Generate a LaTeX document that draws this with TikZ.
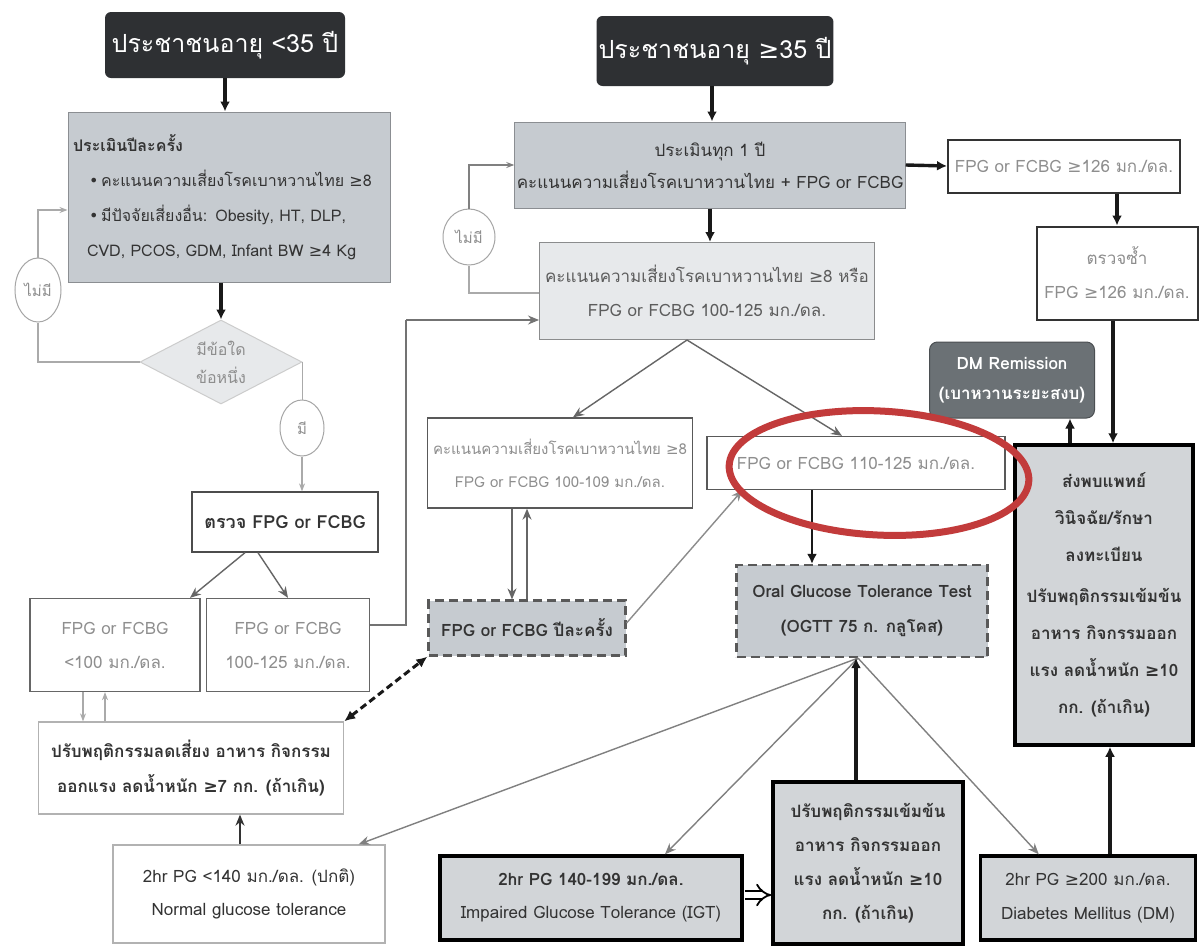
\documentclass[tikz,border=0pt]{standalone}
\usepackage{fontspec}
\setmainfont{Loma}[Script=Thai]
\newfontfamily\djv{DejaVu Sans}
\usetikzlibrary{arrows.meta,shapes.geometric,calc}
\newcommand\mygeq{{\djv ≥}}
\newcommand\mybul{{\djv •}}
\newcommand\fs[2]{\fontsize{#1}{#2}\selectfont}
\definecolor{titlebg}{HTML}{2E3033}
\definecolor{boxgray}{HTML}{C6CBD0}
\definecolor{boxlight}{HTML}{E7E9EB}
\definecolor{boxmid}{HTML}{D2D5D8}
\definecolor{txtgray}{HTML}{8E8E8E}
\definecolor{txtdark}{HTML}{333333}
\definecolor{remgray}{HTML}{6B7175}
\definecolor{ovalred}{HTML}{C23B3B}
\definecolor{linegray}{HTML}{666666}
\definecolor{lightline}{HTML}{AAAAAA}
\tikzset{
  sz/.style 2 args={minimum width=#1,minimum height=#2,inner sep=2pt,align=center},
  titlebox/.style={fill=titlebg,rounded corners=6pt,text=white,font=\fs{25}{30}},
  graybox/.style={fill=boxgray,draw=boxgray!70!black,line width=1pt},
  lightbox/.style={fill=boxlight,draw=boxlight!60!black,line width=1pt},
  whitebox/.style={fill=white,draw=black!70,line width=1.3pt},
  palebox/.style={fill=white,draw=black!30,line width=1.3pt},
  thickbox/.style={fill=boxmid,draw=black,line width=3.5pt},
  dashbox/.style={fill=boxgray,draw=black!65,line width=2.2pt,dash pattern=on 9pt off 5pt},
  remb/.style={fill=remgray,draw=remgray!70!black,rounded corners=8pt,text=white,font=\bfseries\fs{17}{30},line width=1pt},
  oval/.style={ellipse,draw=black!35,line width=1pt,fill=white,text=txtgray,inner sep=0pt},
  bigarrow/.style={draw=black!90,line width=3.4pt,-{Latex[length=10pt,width=10pt]}},
  thinarrow/.style={draw=linegray,line width=1.4pt,-{Stealth[length=11pt,width=9pt]}},
  lightarrow/.style={draw=lightline,line width=1.1pt,-{Stealth[length=8pt,width=6pt]}},
  lightline/.style={draw=lightline,line width=1.1pt},
}
\begin{document}
\begin{tikzpicture}[x=1pt,y=-1pt]
\fill[white] (0,0) rectangle (1200,948);
\useasboundingbox (0,0) rectangle (1200,948);

% ---------- titles ----------
\node[titlebox,sz={240}{66}] (tl) at (225,45) {ประชาชนอายุ <35 ปี};
\node[titlebox,sz={236}{70}] (tm) at (715,51) {ประชาชนอายุ \mygeq35 ปี};

% ---------- left column ----------
\node[graybox,sz={322}{170},text width=312,align=left,text=txtdark,font=\fs{16}{35}] (b1) at (229,197)
 {\textbf{ประเมินปีละครั้ง}\\
  \hspace*{16pt}\mybul\,คะแนนความเสี่ยงโรคเบาหวานไทย \mygeq8\\
  \hspace*{16pt}\mybul\,มีปัจจัยเสี่ยงอื่น: Obesity, HT, DLP,\\
  \hspace*{14pt}CVD, PCOS, GDM, Infant BW \mygeq4 Kg};

\node[diamond,aspect=1.95,fill=boxlight,draw=black!20,line width=1pt,minimum width=162,minimum height=84,inner sep=0pt,align=center,text=txtgray,font=\fs{16}{28}] (d1) at (221,362) {มีข้อใด\\ข้อหนึ่ง};

\node[oval,minimum width=46,minimum height=64,font=\fs{15}{18}] (c1) at (38,290) {ไม่มี};
\node[oval,minimum width=44,minimum height=56,font=\fs{15}{18}] (c2) at (302,428) {มี};

\node[whitebox,sz={186}{60},text=txtdark,font=\bfseries\fs{18}{24}] (ck) at (285,522) {ตรวจ FPG or FCBG};

\node[palebox,draw=black!60,sz={170}{93},text=txtgray,font=\fs{17}{34}] (f1) at (115,645) {FPG or FCBG\\<100 มก./ดล.};
\node[palebox,draw=black!60,sz={163}{93},text=txtgray,font=\fs{17}{34}] (f2) at (288,645) {FPG or FCBG\\100-125 มก./ดล.};

\node[palebox,sz={305}{92},text=txtdark,font=\bfseries\fs{17}{35}] (lr) at (191,768) {ปรับพฤติกรรมลดเสี่ยง อาหาร กิจกรรม\\ออกแรง ลดน้ำหนัก \mygeq7 กก. (ถ้าเกิน)};

\node[palebox,sz={272}{98},text=txtdark,font=\fs{17}{33}] (n1) at (249,894) {2hr PG <140 มก./ดล. (ปกติ)\\Normal glucose tolerance};

% ---------- middle column ----------
\node[graybox,sz={386}{86},text=txtdark,font=\fs{17}{32}] (b2) at (710,165) {ประเมินทุก 1 ปี\\คะแนนความเสี่ยงโรคเบาหวานไทย + FPG or FCBG};
\node[oval,minimum width=52,minimum height=56,font=\fs{15}{18}] (c3) at (469,237) {ไม่มี};
\node[lightbox,sz={335}{97},text=txtdark!80,font=\fs{17}{34}] (r1) at (707,291) {คะแนนความเสี่ยงโรคเบาหวานไทย \mygeq8 หรือ\\FPG or FCBG 100-125 มก./ดล.};

\node[palebox,draw=black!65,sz={265}{90},text=txtgray,font=\fs{15}{33}] (r2) at (560,463) {คะแนนความเสี่ยงโรคเบาหวานไทย \mygeq8\\FPG or FCBG 100-109 มก./ดล.};
\node[palebox,draw=black!65,sz={298}{53},text=txtgray,font=\fs{17}{24}] (r3) at (856,463) {FPG or FCBG 110-125 มก./ดล.};

\node[dashbox,sz={197}{55},text=txtdark,font=\bfseries\fs{17}{24}] (py) at (527,628) {FPG or FCBG ปีละครั้ง};
\node[dashbox,sz={251}{92},text=txtdark,font=\bfseries\fs{17}{35}] (og) at (862,611) {Oral Glucose Tolerance Test\\(OGTT 75 ก. กลูโคส)};

\node[thickbox,sz={302}{84},text=txtdark,font=\fs{17}{33}] (ig) at (591,898) {\textbf{2hr PG 140-199 มก./ดล.}\\Impaired Glucose Tolerance (IGT)};
\node[thickbox,sz={190}{162},text=txtdark,font=\bfseries\fs{17}{34}] (ib) at (868,863) {ปรับพฤติกรรมเข้มข้น\\อาหาร กิจกรรมออก\\แรง ลดน้ำหนัก \mygeq10\\กก. (ถ้าเกิน)};

% ---------- right column ----------
\node[whitebox,draw=black!80,line width=2pt,sz={232}{53},text=txtgray,font=\fs{17}{24}] (g1) at (1064,166) {FPG or FCBG \mygeq126 มก./ดล.};
\node[whitebox,draw=black!80,line width=2pt,sz={161}{93},text=txtgray,font=\fs{17}{34}] (g2) at (1117,273) {ตรวจซ้ำ\\FPG \mygeq126 มก./ดล.};
\node[remb,sz={165}{76}] (rem) at (1012,380) {DM Remission\\(เบาหวานระยะสงบ)};
\node[thickbox,sz={178}{300},text=txtdark,font=\bfseries\fs{17}{37}] (big) at (1104,595) {ส่งพบแพทย์\\วินิจฉัย/รักษา\\ลงทะเบียน\\[4pt]ปรับพฤติกรรมเข้มข้น\\อาหาร กิจกรรมออก\\แรง ลดน้ำหนัก \mygeq10\\กก. (ถ้าเกิน)};
\node[thickbox,sz={215}{84},text=txtdark,font=\fs{17}{34}] (dm) at (1088,898) {2hr PG \mygeq200 มก./ดล.\\Diabetes Mellitus (DM)};

% ---------- connectors: left ----------
\draw[bigarrow] (tl.south) -- (tl.south |- b1.north);
\coordinate (dtop) at (d1.north);
\draw[bigarrow] (dtop |- b1.south) -- (d1.north);
\draw[lightline] (d1.west) -| (c1.south);
\coordinate (b1in) at ($(b1.west)+(0,13)$);
\draw[lightarrow] (c1.north) |- (b1in);
\draw[lightline] (d1.east) -- (d1.east |- c2.north);
\draw[lightarrow] (c2.south) -- (c2.south |- ck.north);
\draw[thinarrow] ($(ck.south)+(-40,0)$) -- ($(f1.north)+(75,0)$);
\draw[thinarrow] ($(ck.south)+(-27,0)$) -- (f2.north);
\coordinate (r1in) at ($(r1.west)+(0,29)$);
\draw[lightline,draw=black!55] ($(f2.east)+(0,-20)$) -| ($(r1in)+(-133,0)$);
\draw[thinarrow,draw=black!55,line width=1.1pt] ($(r1in)+(-133,0)$) -- (r1in);
\draw[lightarrow] ($(f1.south)+(-32,0)$) -- ($(f1.south |- lr.north)+(-32,0)$);
\draw[lightarrow] ($(f1.south |- lr.north)+(-10,0)$) -- ($(f1.south)+(-10,0)$);
\draw[thinarrow,draw=black!80] ($(n1.north)+(-9,0)$) -- ($(n1.north |- lr.south)+(-9,0)$);
\draw[draw=black!90,line width=3pt,dash pattern=on 7pt off 4pt,{Latex[length=11pt,width=10pt]}-{Latex[length=11pt,width=10pt]}] (lr.north east) -- (py.south west);

% ---------- connectors: middle ----------
\draw[bigarrow] ($(tm.south)+(-3,0)$) -- ($(tm.south |- b2.north)+(-3,0)$);
\draw[bigarrow] (b2.south) -- (b2.south |- r1.north);
\draw[lightline] ($(r1.west)+(0,2)$) -| (c3.south);
\draw[lightarrow,draw=black!50] (c3.north) |- (b2.west);
\draw[bigarrow] (b2.east) -- (g1.west);
\draw[thinarrow] ($(r1.south)+(-20,0)$) -- ($(r2.north)+(13,0)$);
\draw[thinarrow] ($(r1.south)+(-20,0)$) -- ($(r3.north)+(-14,0)$);
\draw[thinarrow,draw=black!60] ($(r2.south)+(-48,0)$) -- ($(r2.south |- py.north)+(-48,0)$);
\draw[thinarrow,draw=black!60] ($(r2.south |- py.north)+(-33,0)$) -- ($(r2.south)+(-33,0)$);
\draw[thinarrow,draw=black!45] ($(py.east)+(0,-5)$) -- ($(r3.south west)+(36,0)$);
\draw[bigarrow,line width=2.6pt] ($(r3.south)+(-44,0)$) -- ($(r3.south |- og.north)+(-44,0)$);
\coordinate (ogb) at ($(og.south)+(-4,0)$);
\draw[thinarrow,draw=black!50] (ogb) -- ($(n1.north east)+(-27,0)$);
\draw[thinarrow,draw=black!50] (ogb) -- ($(ig.north)+(74,0)$);
\draw[thinarrow,draw=black!50] (ogb) -- ($(dm.north west)+(60,0)$);
\draw[bigarrow] ($(ib.north)+(-12,0)$) -- ($(og.south)+(-6,0)$);
\coordinate (igr) at ($(ig.east)+(1,-3)$);
\draw[draw=black,line width=1.8pt,double=white,double distance=6pt,-{Implies}] (igr) -- (igr -| ib.west);

% ---------- connectors: right ----------
\draw[bigarrow] (g2.north |- g1.south) -- (g2.north);
\coordinate (g2x) at ($(g2.south)+(-4,0)$);
\draw[bigarrow] (g2x) -- (g2x |- big.north);
\coordinate (remx) at ($(rem.south)+(58,0)$);
\draw[bigarrow] (remx |- big.north) -- (remx);
\coordinate (dmx) at ($(dm.north)+(22,0)$);
\draw[bigarrow] (dmx) -- (dmx |- big.south);

% ---------- red highlight ----------
\draw[ovalred,line width=7pt,rotate around={-3:(879,473)}] (879,473) ellipse [x radius=150, y radius=62];
\end{tikzpicture}
\end{document}
